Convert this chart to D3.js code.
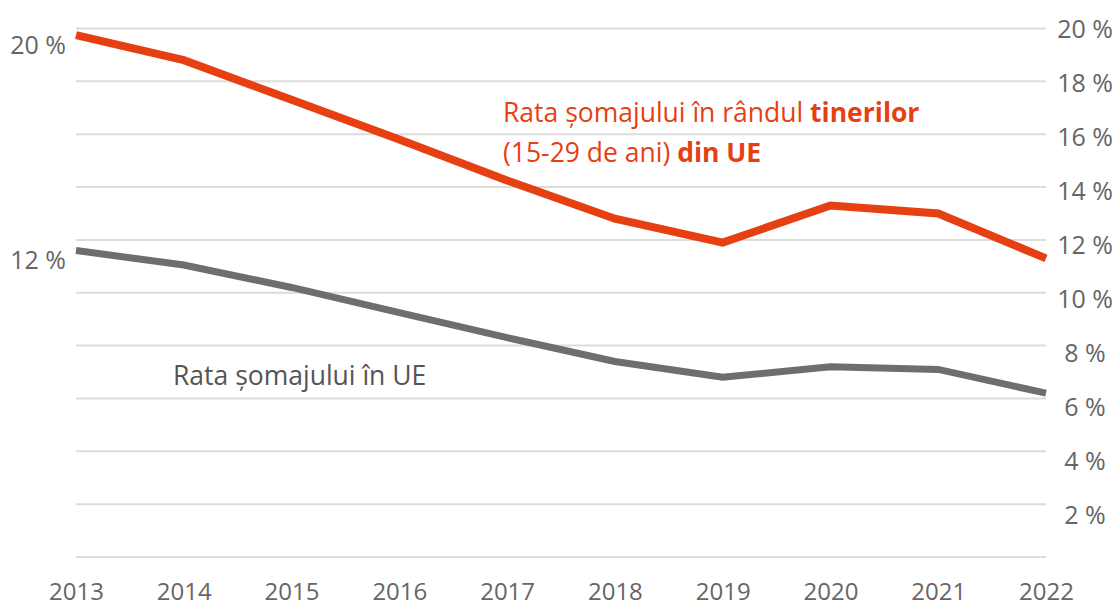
<!DOCTYPE html>
<html>
<head>
<meta charset="utf-8">
<script src="https://cdn.jsdelivr.net/npm/d3@7"></script>
<style>
  body { margin: 0; background: #fff; }
  svg text { font-family: "Open Sans", "Noto Sans", sans-serif; }
</style>
</head>
<body>
<div id="chart"></div>
<script>
// date
const years = [2013, 2014, 2015, 2016, 2017, 2018, 2019, 2020, 2021, 2022];
const youthRate = [19.75, 18.8, 17.3, 15.8, 14.25, 12.8, 11.9, 13.3, 13.0, 11.3];
const totalRate = [11.6, 11.05, 10.2, 9.25, 8.3, 7.4, 6.8, 7.2, 7.1, 6.2];
const gridTicks = [0, 2, 4, 6, 8, 10, 12, 14, 16, 18, 20];
const rightTicks = [2, 4, 6, 8, 10, 12, 14, 16, 18, 20];
const leftLabels = [{ text: '20 %', idx: 0, series: 'youth' }, { text: '12 %', idx: 0, series: 'total' }];

const W = 1115, H = 601;
const red = '#e63f12', grey = '#6e6e6e', textGrey = '#666';

const svg = d3.select('#chart').append('svg')
    .attr('width', W).attr('height', H);

const x = d3.scaleLinear().domain([2013, 2022]).range([76, 1046]);
const y = d3.scaleLinear().domain([0, 20]).range([557, 28.5]);
// axa secundara din dreapta are pasul putin diferit
const y2 = d3.scaleLinear().domain([2, 20]).range([515, 29]);

//linii de grila
svg.append('g').selectAll('line').data(gridTicks).join('line')
    .attr('x1', x(2013)).attr('x2', x(2022))
    .attr('y1', d => y(d)).attr('y2', d => y(d))
    .attr('stroke', '#dcdcdc').attr('stroke-width', 2);

//axa x
const xAxis = svg.append('g').attr('transform', `translate(0,${y(0)})`)
    .call(d3.axisBottom(x).tickValues(years).tickFormat(d3.format('d')).tickSize(0).tickPadding(26));
xAxis.select('.domain').remove();
xAxis.selectAll('text').attr('font-size', 24).attr('fill', textGrey)
    .style('font-family', '"Open Sans", sans-serif');

//axa y dreapta
const yAxis = svg.append('g').attr('transform', `translate(1085,0)`)
    .call(d3.axisRight(y2).tickValues(rightTicks).tickFormat(d => d + ' %').tickSize(0).tickPadding(0));
yAxis.select('.domain').remove();
yAxis.selectAll('text').attr('font-size', 25).attr('fill', textGrey)
    .attr('text-anchor', 'middle')
    .style('font-family', '"Open Sans", sans-serif');

const line = d3.line().x((d, i) => x(years[i])).y(d => y(d));

svg.append('path').datum(totalRate)
    .attr('d', line).attr('fill', 'none')
    .attr('stroke', grey).attr('stroke-width', 7).attr('stroke-linejoin', 'miter');

svg.append('path').datum(youthRate)
    .attr('d', line).attr('fill', 'none')
    .attr('stroke', red).attr('stroke-width', 8).attr('stroke-linejoin', 'miter');

//etichete stanga
svg.append('g').selectAll('text').data(leftLabels).join('text')
    .attr('x', 66)
    .attr('y', d => y(d.series === 'youth' ? youthRate[d.idx] : totalRate[d.idx]) + 10)
    .attr('dy', '0.35em')
    .attr('text-anchor', 'end')
    .attr('font-size', 25).attr('fill', textGrey)
    .text(d => d.text);

//adnotari
const t1 = svg.append('text').attr('x', 503).attr('y', 122).attr('font-size', 26.5).attr('fill', red);
t1.append('tspan').text('Rata șomajului în rândul ');
t1.append('tspan').attr('font-weight', 'bold').text('tinerilor');
const t2 = svg.append('text').attr('x', 503).attr('y', 162).attr('font-size', 26.5).attr('fill', red);
t2.append('tspan').text('(15-29 de ani) ');
t2.append('tspan').attr('font-weight', 'bold').text('din UE');

svg.append('text').attr('x', 173).attr('y', 385).attr('font-size', 26.5).attr('fill', '#555')
    .text('Rata șomajului în UE');
</script>
</body>
</html>
